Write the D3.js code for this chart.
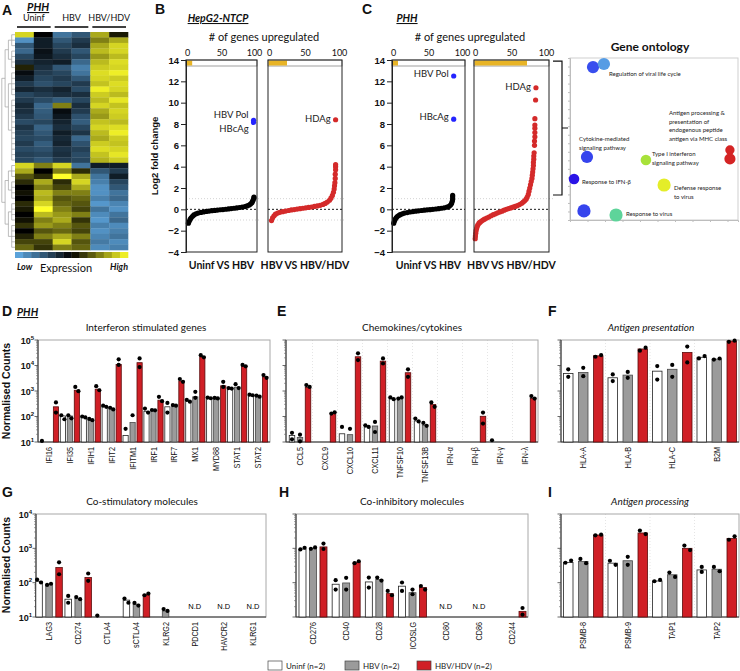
<!DOCTYPE html>
<html><head><meta charset="utf-8">
<script src="https://cdn.jsdelivr.net/npm/d3@7"></script>
<style>
body{margin:0;background:#fff;}
svg{display:block;}
</style></head><body>
<svg id="c" width="740" height="671"></svg>
<script>
// ================= DATA =================
// Panel A heatmap (z-scores), columns: Uninf x2, HBV x2, HBV/HDV x2
const heatGroups = ["Uninf", "HBV", "HBV/HDV"];
const heatRows = [
 [2.5,0,-2,-1.5,2,0.3],[-2.5,-0.5,-1.5,-1,1.5,2],[-1.5,-0.5,-1.2,-0.8,2,2.5],[-1.8,-0.3,-1,-1.5,2.2,2.5],
 [-1.2,-0.4,-0.8,-1.2,1.8,2.2],[-0.8,-0.6,-0.5,-1.8,2.2,2.6],[0.4,-0.8,-1.5,-2.2,2.4,2.5],[-0.2,-1,-1.2,-2,2.6,2.8],
 [-0.5,-1.2,-1,-1.5,2.5,2.4],[-1,-1.4,-1.2,-1,2.3,2.6],[-0.6,-0.8,-0.6,-1.3,2.8,2.5],[-1.2,-1,-0.8,-0.8,2.4,2.2],
 [-1,-1.3,-1.6,-1.2,2.2,2.7],[-0.7,-1.8,1.5,-0.8,2.5,2.3],[-0.8,-1.6,-0.2,-1,2,2.5],[-1,-1.5,-0.4,-1.4,1.8,2.4],
 [-1.3,-1.2,-0.6,-1.6,2.3,2.2],[-0.9,-1.7,-0.8,-1.2,2.5,2.6],[-1.1,-1.5,-0.5,-0.9,2.2,2.8],[-1.2,-1.3,-0.7,-1.8,2,2.4],
 [-1,-1.6,-0.6,-1.4,2.4,2.3],[-1.3,-1.4,-0.9,-1.1,2.6,2.5],[-1.1,-1.2,-0.8,-1.3,2.3,2.7],[-1.2,-1.5,-1,-1.2,2.1,2.4],
 [2.5,1.5,2.5,-2,-0.5,-0.5],[2,0,1.5,0.5,-1.5,-1],[1,0.5,3,2,-2,-0.5],[0.5,2,0.5,2.5,-2.2,-1.2],
 [0,1.5,0.8,2,-2.5,-1.5],[0.2,2.2,1.5,1.5,-2.5,-2],[0,2,1,1.2,-2.2,-1.8],[0.5,2.5,1.2,1,-2.6,-2.3],
 [0.3,3,1.5,0.8,-2,-2.5],[0,2.2,1.8,1.5,-2.4,-2],[0.2,1.5,2,0.6,-2.6,-1.8],[0.6,1.8,1.5,1,-2.2,-2.4],
 [0,1,1.2,0.8,-2.5,-2.2],[0.4,1.5,2,1.5,-2.3,-2],[0.8,0.8,2.5,1,-2.1,-2.4],[1.2,0.6,1.5,1.2,-2.4,-2.2]
];
const dendro = [[[[0,1,2],[3,4,5,6]],[[7,8,9,10,11],[12,13,14,15,16,17,18,19,20,21,22,23]]],
                [[[24,25,26],[27,28,29,30]],[[31,32,33,34],[35,36,37,38,39]]]];

// Panels B/C: [rank %, log2 fold change]
const bLeftTop = 8, bRightTop = 25, cLeftTop = 7.5, cRightTop = 70;
const bLeftPts = [[2,-1.3],[3,-1.15],[4.5,-0.95],[6,-0.8],[8,-0.65],[10,-0.52],[13,-0.42],[16,-0.35],[20,-0.29],[24,-0.24],[28,-0.2],[32,-0.16],[36,-0.13],[40,-0.1],[44,-0.07],[48,-0.04],[52,-0.02],[56,0.01],[60,0.04],[64,0.07],[68,0.1],[72,0.13],[76,0.17],[80,0.21],[84,0.26],[87,0.32],[90,0.4],[92,0.5],[94,0.62],[95,0.75],[96,0.9],[97,1.05],[97,1.15]];
const bLeftHits = [[96.5,8.35],[96.5,8.15]];
const bRightPts = [[3.5,-1.05],[5,-0.8],[7,-0.6],[9,-0.45],[12,-0.35],[15,-0.28],[19,-0.22],[23,-0.16],[27,-0.11],[31,-0.06],[35,-0.02],[39,0.02],[43,0.06],[47,0.1],[51,0.14],[55,0.18],[59,0.22],[63,0.27],[67,0.32],[71,0.38],[75,0.46],[78,0.55],[81,0.68],[84,0.85],[86,1.05],[88,1.3],[89.5,1.6],[90.5,1.9],[91,2.2],[91.5,2.5],[92,2.9],[92,3.3],[92.5,3.7],[92.5,4.0],[92.5,4.2],[92.5,8.4]];
const cLeftPts = [[1,-1.3],[2,-1.1],[3,-0.95],[4.5,-0.8],[6,-0.68],[8,-0.58],[10,-0.5],[13,-0.42],[16,-0.35],[20,-0.3],[24,-0.25],[28,-0.21],[32,-0.17],[36,-0.14],[40,-0.11],[44,-0.08],[48,-0.05],[52,-0.03],[56,0],[60,0.03],[64,0.06],[68,0.1],[72,0.14],[76,0.2],[79,0.28],[81,0.4],[82.5,0.55],[83.5,0.75],[84,0.95],[84,1.15],[84,1.3]];
const cLeftHits = [[85.5,12.5],[85.5,8.45]];
const cRightPts = [[0.3,-2.75],[0.6,-2.5],[1,-2.25],[1.5,-2.0],[2.2,-1.8],[3,-1.6],[4,-1.45],[5.5,-1.3],[7,-1.2],[9,-1.1],[11,-1.0],[13,-0.92],[16,-0.82],[19,-0.72],[22,-0.6],[25,-0.5],[28,-0.42],[31,-0.33],[34,-0.25],[37,-0.17],[40,-0.08],[43,0],[46,0.07],[49,0.13],[52,0.2],[55,0.27],[58,0.35],[61,0.45],[64,0.56],[66,0.68],[68,0.8],[70,0.95],[71.5,1.15],[73,1.4],[74,1.7],[75,2.0],[76,2.3],[77,2.6],[78,2.9],[78.5,3.2],[79,3.5],[79.5,3.8],[80,4.1],[80,4.4],[80.5,4.7],[80.5,5.0],[81,5.3],[81.5,6.0],[81.5,6.4],[82,6.8],[82,7.2],[82,7.6],[82,7.9],[82,8.5],[83,10.25],[83.5,11.4]];
const bLeftLabels = [["HBV Pol",8.85],["HBcAg",7.6]];
const bRightLabels = [["HDAg",8.56]];
const cLeftLabels = [["HBV Pol",12.69],["HBcAg",8.66]];
const cRightLabels = [["HDAg",11.47]];

// Gene ontology bubbles
const goX = [1.37,2.02,9.52,9.52,1.01,4.52,0.24,5.6,0.83,2.74];
const goY = [9.44,9.63,4.32,3.77,3.89,3.70,2.53,2.16,0.56,0.31];
const goSize = [12,12,7,10,12,9,9,14,14,14];
const goScore = [0.12,0.28,1,1,0.1,0.6,0,0.74,0.1,0.45];
const goTerms = [["Regulation of viral life cycle"],["Antigen processing &","presentation of","endogenous peptide","antigen via MHC class"],["Cytokine-mediated","signaling pathway"],["Type I interferon","signaling pathway"],["Response to IFN-β"],["Defense response","to virus"],["Response to virus"]];
const goTermX = [2.32,5.89,0.54,4.88,0.71,6.19,3.33];
const goTermY = [8.89,6.48,4.88,3.95,2.22,1.85,0.25];

// D: Interferon stimulated genes
const dGenes = ["IFI16","IFI35","IFIH1","IFIT2","IFITM1","IRF1","IRF7","MX1","MYD88","STAT1","STAT2"];
const dUninf = [null,105,96,253,18,160,240,400,540,1250,690];
const dHBV   = [null,105,76,205,58,176,276,590,520,1410,630];
const dHDV   = [240,1070,1180,11000,12900,436,2450,22000,1600,9800,3600];
const dUninfPts = [[11],[112,78],[100,92],[265,240],[33],[204,142],[340,142],[450,380],[550,520],[1300,1250],[720,680]];
const dHBVPts   = [[],[112,85],[80,72],[220,190],[112],[180,175],[280,265],[930,540],[540,510],[1860,1300],[660,600]];
const dHDVPts   = [[355,142],[1450,980],[1550,1070],[17400,10500],[19000,8700],[590,400],[2960,2300],[25500,21000],[2300,1450],[10500,9300],[4200,3300]];

// E: Chemokines/cytokines
const eGenes = ["CCL5","CXCL9","CXCL10","CXCL11","TNFSF10","TNFSF13B","IFN-α","IFN-β","IFN-γ","IFN-λ"];
const eUninf = [18,null,21,39,505,67,null,null,null,null];
const eHBV   = [15,null,19.4,42.5,505,45,null,null,null,null];
const eHDV   = [1380,130,22000,14800,5200,295,null,102,null,505];
const eUninfPts = [[23,12.7],[],[39],[45,39],[560,480],[83,64],[],[],[11.7],[]];
const eHBVPts   = [[19.4,10.6],[],[33],[61,24.7],[505,560],[56,43],[],[],[],[]];
const eHDVPts   = [[1700,1450],[130,146],[30000,16300],[19000,12000],[7100,3600],[355,240],[],[142,53],[],[630,505]];

// F: Antigen presentation
const fGenes = ["HLA-A","HLA-B","HLA-C","B2M"];
const fUninf = [4900,3300,6000,21000];
const fHBV   = [5350,4200,7100,17800];
const fHDV   = [24000,44500,32500,91000];
const fUninfPts = [[7100,3600],[4450,2450],[9500,2800],[19000,23500]];
const fHBVPts   = [[8100,3800],[5600,3300],[10500,3600],[17000,18800]];
const fHDVPts   = [[22000,25600],[38000,50000],[55000,13200],[85000,94000]];

// G: Co-stimulatory molecules
const gGenes = ["LAG3","CD274","CTLA4","sCTLA4","KLRG2","PDCD1","HAVCR2","KLRG1"];
const gUninf = [110,33,null,31,null,null,null,null];
const gHBV   = [88,34.5,null,23.5,15,null,null,null];
const gHDV   = [275,141,null,45,null,null,null,null];
const gUninfPts = [[123,101],[41,26],[11],[34.5,26],[],[],[],[]];
const gHBVPts   = [[86,93],[38,33],[],[25.7,21.5],[17,15],[],[],[]];
const gHDVPts   = [[390,176],[185,113],[],[43,48],[],[],[],[]];
const gND = ["PDCD1","HAVCR2","KLRG1"];

// H: Co-inhibitory molecules
const hGenes = ["CD276","CD40","CD28","ICOSLG","CD80","CD86","CD244"];
const hUninf = [955,90,105,79,null,null,null];
const hHBV   = [990,98,123,51,null,null,null];
const hHDV   = [1100,390,48,72,null,null,14.6];
const hUninfPts = [[930,1040],[118,63],[141,72],[101,57.5],[],[],[]];
const hHBVPts   = [[970,1060],[138,63],[141,115],[63,46],[],[],[]];
const hHDVPts   = [[1380,955],[370,420],[57.5,43],[80,63],[],[],[18.3,11.7]];
const hND = ["CD80","CD86"];

// I: Antigen processing
const iGenes = ["PSMB-8","PSMB-9","TAP1","TAP2"];
const iUninf = [390,370,112,235];
const iHBV   = [415,435,170,246];
const iHDV   = [2450,2800,1000,1950];
const iUninfPts = [[380,440],[435,330],[110,120],[288,205]];
const iHBVPts   = [[490,370],[565,330],[197,147],[288,215]];
const iHDVPts   = [[2400,2500],[3300,2600],[1200,890],[1780,2240]];

const legendLabels = ["Uninf (n=2)","HBV (n=2)","HBV/HDV (n=2)"];

// ================= DRAWING =================
const svg = d3.select('#c');
const FL = 'Lato, "Open Sans", sans-serif';
const FA = '"Liberation Sans", Arial, sans-serif';
const RED = '#d01f26', GRAY = '#9b9b9b';

function txt(x,y,s,o={}){
  const t = svg.append('text').attr('x',x).attr('y',y).text(s)
    .attr('font-family',o.ff||FL).attr('font-size',o.fs||10).attr('fill',o.fill||'#111');
  if(o.fw) t.attr('font-weight',o.fw);
  if(o.it) t.attr('font-style','italic');
  if(o.anchor) t.attr('text-anchor',o.anchor);
  if(o.ul) t.attr('text-decoration','underline');
  if(o.rot) t.attr('transform',`rotate(${o.rot},${x},${y})`);
  if(o.db) t.attr('dominant-baseline',o.db);
  return t;
}

// Panel letters
[["A",2,15],["B",155,14],["C",362,14],["D",2,316],["E",277,316],["F",548,316],["G",2,497],["H",279,497],["I",548,497]]
 .forEach(([l,x,y])=>txt(x,y,l,{fs:14,fw:'bold',ff:FA}));
txt(17,316,"PHH",{fs:10.5,fw:'bold',it:true,ul:true});

// ---------- A: heatmap ----------
txt(27,11,"PHH",{fs:11,fw:'bold',it:true,ul:true});
const hx = d3.scaleBand().domain(d3.range(6)).range([15,128]);
const hy = d3.scaleBand().domain(d3.range(heatRows.length)).range([32,250]);
const heatColor = d3.scaleLinear().domain([-3,0,3]).range(["#62aeea","#000000","#ffff2a"]).clamp(true);
const cells = heatRows.flatMap((r,i)=>r.map((v,j)=>({i,j,v})));
svg.append('g').selectAll('rect').data(cells).join('rect')
  .attr('x',d=>hx(d.j)).attr('y',d=>hy(d.i)).attr('width',hx.bandwidth()+0.3).attr('height',hy.bandwidth()+0.3)
  .attr('fill',d=>heatColor(d.v));
heatGroups.forEach((g,k)=>{
  const a = hx(2*k)+2, b = hx(2*k+1)+hx.bandwidth()-2;
  svg.append('line').attr('x1',a).attr('x2',b).attr('y1',27).attr('y2',27).attr('stroke','#000').attr('stroke-width',1.6);
  txt((a+b)/2,21,g,{fs:9,anchor:'middle'});
});
// dendrogram
const root = d3.hierarchy(dendro, d=>Array.isArray(d)?d:null);
root.eachAfter(n=>{
  if(!n.children){ n.py = hy(n.data)+hy.bandwidth()/2; }
  else n.py = d3.mean(n.children,c=>c.py);
  n.px = 15 - n.height*3.3;
});
const dg = svg.append('g').attr('stroke','#a0a0a0').attr('stroke-width',0.7).attr('fill','none');
root.each(n=>{
  if(n.children){
    dg.append('line').attr('x1',n.px).attr('x2',n.px).attr('y1',d3.min(n.children,c=>c.py)).attr('y2',d3.max(n.children,c=>c.py));
    n.children.forEach(c=>dg.append('line').attr('x1',n.px).attr('x2',c.px).attr('y1',c.py).attr('y2',c.py));
  }
});
// colour bar
const cbVals = d3.range(14).map(i=>-3+6*(i+0.5)/14);
const cbx = d3.scaleBand().domain(d3.range(14)).range([15,128]);
svg.append('g').selectAll('rect').data(cbVals).join('rect')
  .attr('x',(d,i)=>cbx(i)).attr('y',252).attr('width',cbx.bandwidth()+0.3).attr('height',6).attr('fill',d=>heatColor(d));
txt(17,270,"Low",{fs:9,fw:'bold',it:true});
txt(66,272,"Expression",{fs:11,anchor:'middle'});
txt(110,270,"High",{fs:9,fw:'bold',it:true});

// ---------- B / C ----------
txt(218,22,"HepG2-NTCP",{fs:10.5,fw:'bold',it:true,ul:true,anchor:'middle'});
txt(407,22,"PHH",{fs:10.5,fw:'bold',it:true,ul:true,anchor:'middle'});
txt(264,41,"# of genes upregulated",{fs:11,anchor:'middle'});
txt(470,41,"# of genes upregulated",{fs:11,anchor:'middle'});
const lfc = d3.scaleLinear().domain([-4,14]).range([252,60]);
const vols = [
 {x0:186,x1:257,top:bLeftTop,pts:bLeftPts,hits:bLeftHits,labs:bLeftLabels,col:'#000',yaxis:true,sub:"Uninf VS HBV"},
 {x0:268,x1:342,top:bRightTop,pts:bRightPts,hits:[],labs:bRightLabels,col:'#d42a2a',yaxis:false,sub:"HBV VS HBV/HDV"},
 {x0:392,x1:465,top:cLeftTop,pts:cLeftPts,hits:cLeftHits,labs:cLeftLabels,col:'#000',yaxis:true,sub:"Uninf VS HBV"},
 {x0:474,x1:549,top:cRightTop,pts:cRightPts,hits:[],labs:cRightLabels,col:'#d42a2a',yaxis:false,sub:"HBV VS HBV/HDV"}
];
vols.forEach(p=>{
  const g = svg.append('g');
  const xr = d3.scaleLinear().domain([0,100]).range([p.x0+1,p.x1-1]);
  const xt = d3.scaleLinear().domain([0,100]).range([p.x0,p.x1]);
  [1,-1].forEach(v=>g.append('line').attr('x1',p.x0).attr('x2',p.x1+4).attr('y1',lfc(v)).attr('y2',lfc(v))
     .attr('stroke','#c8c8c8').attr('stroke-dasharray','1,2').attr('stroke-width',0.8));
  g.append('line').attr('x1',p.x0).attr('x2',p.x1).attr('y1',lfc(0)).attr('y2',lfc(0))
     .attr('stroke','#000').attr('stroke-dasharray','2,2').attr('stroke-width',0.9);
  // top bar
  g.append('rect').attr('x',p.x0).attr('y',lfc(14)).attr('width',p.x1-p.x0).attr('height',6).attr('fill','#fff').attr('stroke','#888').attr('stroke-width',0.8);
  g.append('rect').attr('x',p.x0+0.5).attr('y',lfc(14)+0.5).attr('width',xt(p.top)-p.x0).attr('height',5).attr('fill','#e8b426');
  g.selectAll('circle.p').data(p.pts).join('circle').attr('cx',d=>xr(d[0])).attr('cy',d=>lfc(d[1])).attr('r',2.6).attr('fill',p.col);
  g.selectAll('circle.h').data(p.hits).join('circle').attr('cx',d=>xr(d[0])).attr('cy',d=>lfc(d[1])).attr('r',2.6).attr('fill','#2424ff');
  const lx = p.hits.length? xr(p.hits[0][0]) : xr(p.pts[p.pts.length-1][0]);
  p.labs.forEach(([s,v])=>txt(lx-5,lfc(v),s,{fs:9.5,anchor:'end',db:'central',fill:'#222'}));
  g.append('rect').attr('x',p.x0).attr('y',lfc(14)).attr('width',p.x1-p.x0).attr('height',lfc(-4)-lfc(14)).attr('fill','none').attr('stroke','#222').attr('stroke-width',1);
  const ta = g.append('g').attr('transform',`translate(0,${lfc(14)-1})`).call(d3.axisTop(xt).tickValues([0,50,100]).tickSize(0).tickPadding(3));
  ta.select('.domain').remove();
  ta.selectAll('text').attr('font-family',FL).attr('font-size',9).attr('fill','#111')
    .attr('dx',d=>d===100?-3:(d===0?1:0));
  if(p.yaxis){
    const ya = g.append('g').attr('transform',`translate(${p.x0},0)`).call(d3.axisLeft(lfc).tickValues(d3.range(-4,15,2)).tickSize(5).tickPadding(2));
    ya.selectAll('text').attr('font-family',FA).attr('font-size',9.5).attr('font-weight','bold').attr('fill','#111');
    ya.selectAll('line,path').attr('stroke','#222');
  }
  txt((p.x0+p.x1)/2,269,p.sub,{fs:10.5,fw:'bold',anchor:'middle'});
});
txt(158,156,"Log2 fold change",{fs:9.5,fw:'bold',ff:FA,anchor:'middle',rot:-90});
// bracket
svg.append('path').attr('d',`M553,${lfc(13.9)}H562V195H553M562,128H568`).attr('fill','none').attr('stroke','#111').attr('stroke-width',1.2);

// ---------- Gene ontology ----------
txt(650,51,"Gene ontology",{fs:12,fw:'bold',anchor:'middle'});
const gx = d3.scaleLinear().domain([0,10]).range([570,738]);
const gy = d3.scaleLinear().domain([0,10]).range([220,58]);
const gr = d3.scaleSqrt().domain([0,14]).range([0,6.6]);
const gcol = d3.scaleLinear().domain([0,0.15,0.3,0.45,0.6,0.75,1]).range(["#2a14e6","#3c5cf0","#5aa6e2","#5ed49a","#a8e23a","#e8ee28","#d42424"]);
svg.append('rect').attr('x',570).attr('y',58).attr('width',168).attr('height',162).attr('fill','none').attr('stroke','#cfcfcf');
const gyA = svg.append('g').attr('transform','translate(570,0)').call(d3.axisLeft(d3.scaleLinear().domain([0,19]).range([220,58])).ticks(19).tickSize(2).tickFormat(''));
const gxA = svg.append('g').attr('transform','translate(0,220)').call(d3.axisBottom(d3.scaleLinear().domain([0,9.6]).range([570,738])).ticks(10).tickSize(2).tickFormat(''));
[gyA,gxA].forEach(a=>a.selectAll('line,path').attr('stroke','#bdbdbd'));
svg.append('g').selectAll('circle').data(goX).join('circle')
  .attr('cx',(d,i)=>gx(d)).attr('cy',(d,i)=>gy(goY[i])).attr('r',(d,i)=>gr(goSize[i])).attr('fill',(d,i)=>gcol(goScore[i]));
goTerms.forEach((lines,i)=>lines.forEach((s,k)=>txt(gx(goTermX[i]),gy(goTermY[i])+k*8.6,s,{fs:6,fill:'#222'})));

// ---------- bar panels ----------
function barPanel(p){
  const g = svg.append('g');
  const y = d3.scaleLog().domain(p.dom).range([p.yb,p.yt]);
  const xb = d3.scaleBand().domain(p.cats).range(p.band);
  const cx = c=>xb(c)+xb.bandwidth()/2;
  if(p.grid) g.selectAll('line.gl').data(p.cats.slice(1)).join('line')
    .attr('x1',c=>xb(c)).attr('x2',c=>xb(c)).attr('y1',p.yt).attr('y2',p.yb)
    .attr('stroke','#d4d4d4').attr('stroke-dasharray','1,2').attr('stroke-width',0.6);
  g.append('rect').attr('x',p.bx[0]).attr('y',p.yt).attr('width',p.bx[1]-p.bx[0]).attr('height',p.yb-p.yt)
    .attr('fill','none').attr('stroke','#a8a8a8').attr('stroke-width',1);
  g.append('line').attr('x1',p.bx[0]).attr('x2',p.bx[1]).attr('y1',p.yb).attr('y2',p.yb).attr('stroke','#333').attr('stroke-width',1.1);
  g.append('line').attr('x1',p.bx[0]).attr('x2',p.bx[0]).attr('y1',p.yt).attr('y2',p.yb).attr('stroke','#333').attr('stroke-width',1.1);
  const lo = Math.round(Math.log10(p.dom[0])), hi = Math.round(Math.log10(p.dom[1]));
  for(let k=lo;k<=hi;k++){
    const v = Math.pow(10,k);
    g.append('line').attr('x1',p.bx[0]-3.5).attr('x2',p.bx[0]).attr('y1',y(v)).attr('y2',y(v)).attr('stroke','#444').attr('stroke-width',0.8);
    if(k<hi) for(let m=2;m<=9;m++) g.append('line').attr('x1',p.bx[0]-2).attr('x2',p.bx[0]).attr('y1',y(m*v)).attr('y2',y(m*v)).attr('stroke','#666').attr('stroke-width',0.6);
    if(p.tickLabels){
      const t = g.append('text').attr('x',p.bx[0]-4).attr('y',y(v)+3.5).attr('text-anchor','end')
        .attr('font-family',FA).attr('font-size',9).attr('font-weight','bold').attr('fill','#111');
      t.append('tspan').text('10');
      t.append('tspan').attr('dy',-4).attr('font-size',6).text(k);
    }
  }
  const series=[p.u,p.h,p.r], pts=[p.up,p.hp,p.rp];
  const fills=['#ffffff',GRAY,RED], strokes=['#222','#4a4a4a','#5a0c0c'];
  series.forEach((s,si)=>{
    const off=(si-1)*p.off;
    g.selectAll(null).data(p.cats.map((c,i)=>({c,v:s[i]})).filter(d=>d.v!=null)).join('rect')
      .attr('x',d=>cx(d.c)+off-p.bw/2).attr('y',d=>y(d.v)).attr('width',p.bw).attr('height',d=>p.yb-y(d.v))
      .attr('fill',fills[si]).attr('stroke',strokes[si]).attr('stroke-width',0.8);
  });
  series.forEach((s,si)=>{
    const off=(si-1)*p.off, jit=p.bw*0.3, dots=[];
    p.cats.forEach((c,i)=>{
      const arr=pts[si][i]||[];
      if(arr.length===2 && Math.abs(y(arr[0])-y(arr[1]))<4.5){
        dots.push({x:cx(c)+off-jit,v:arr[0]},{x:cx(c)+off+jit,v:arr[1]});
      } else arr.forEach(v=>dots.push({x:cx(c)+off,v}));
    });
    g.selectAll(null).data(dots).join('circle').attr('cx',d=>d.x).attr('cy',d=>y(d.v)).attr('r',2.1).attr('fill','#000');
  });
  (p.nd||[]).forEach(c=>g.append('text').attr('x',cx(c)).attr('y',p.ndY).attr('text-anchor','middle')
     .attr('font-family',FA).attr('font-size',7.5).attr('fill','#000').text('N.D'));
  g.selectAll('text.cat').data(p.cats).join('text')
    .attr('transform',c=>`translate(${cx(c)+3},${p.yb+5}) rotate(-90) scale(0.85,1)`)
    .attr('text-anchor','end').attr('font-family',FA).attr('font-size',8.5).attr('fill','#111').text(c=>c);
  txt(p.tx,p.ty,p.title,{fs:10,it:!!p.it,anchor:'middle',fill:'#111'});
}
barPanel({cats:dGenes,u:dUninf,h:dHBV,r:dHDV,up:dUninfPts,hp:dHBVPts,rp:dHDVPts,
  dom:[10,1e5],yt:340,yb:442,bx:[38,270],band:[38.5,268.5],off:7,bw:5.2,tickLabels:true,title:"Interferon stimulated genes",tx:146,ty:331});
barPanel({cats:eGenes,u:eUninf,h:eHBV,r:eHDV,up:eUninfPts,hp:eHBVPts,rp:eHDVPts,
  dom:[10,1e5],yt:340,yb:442,bx:[286,538],band:[287.5,537.5],off:8,bw:5.5,grid:true,title:"Chemokines/cytokines",tx:412,ty:331});
barPanel({cats:fGenes,u:fUninf,h:fHBV,r:fHDV,up:fUninfPts,hp:fHBVPts,rp:fHDVPts,
  dom:[10,1e5],yt:340,yb:442,bx:[561,739],band:[561,739],off:15,bw:9.5,grid:true,title:"Antigen presentation",it:true,tx:651,ty:331});
barPanel({cats:gGenes,u:gUninf,h:gHBV,r:gHDV,up:gUninfPts,hp:gHBVPts,rp:gHDVPts,nd:gND,ndY:609,
  dom:[10,1e4],yt:514,yb:617,bx:[36,266],band:[34.5,267.5],off:10,bw:6.5,tickLabels:true,title:"Co-stimulatory molecules",tx:142,ty:505});
barPanel({cats:hGenes,u:hUninf,h:hHBV,r:hHDV,up:hUninfPts,hp:hHBVPts,rp:hHDVPts,nd:hND,ndY:609,
  dom:[10,1e4],yt:514,yb:617,bx:[296,528],band:[296.4,528.6],off:10.5,bw:7,title:"Co-inhibitory molecules",tx:412,ty:505});
barPanel({cats:iGenes,u:iUninf,h:iHBV,r:iHDV,up:iUninfPts,hp:iHBVPts,rp:iHDVPts,
  dom:[10,1e4],yt:514,yb:617,bx:[561,739],band:[561,739],off:15,bw:9.5,grid:true,title:"Antigen processing",it:true,tx:650,ty:505});
txt(10,391,"Normalised Counts",{fs:10.5,fw:'bold',ff:FA,anchor:'middle',rot:-90});
txt(10,565,"Normalised Counts",{fs:10.5,fw:'bold',ff:FA,anchor:'middle',rot:-90});

// legend
const legX = [268,345,417];
const legFill = ['#ffffff',GRAY,RED];
legendLabels.forEach((s,i)=>{
  svg.append('rect').attr('x',legX[i]).attr('y',661).attr('width',14).attr('height',9).attr('fill',legFill[i]).attr('stroke','#444').attr('stroke-width',0.7);
  txt(legX[i]+18,668.5,s,{fs:8,fill:'#222'});
});
</script></body></html>
